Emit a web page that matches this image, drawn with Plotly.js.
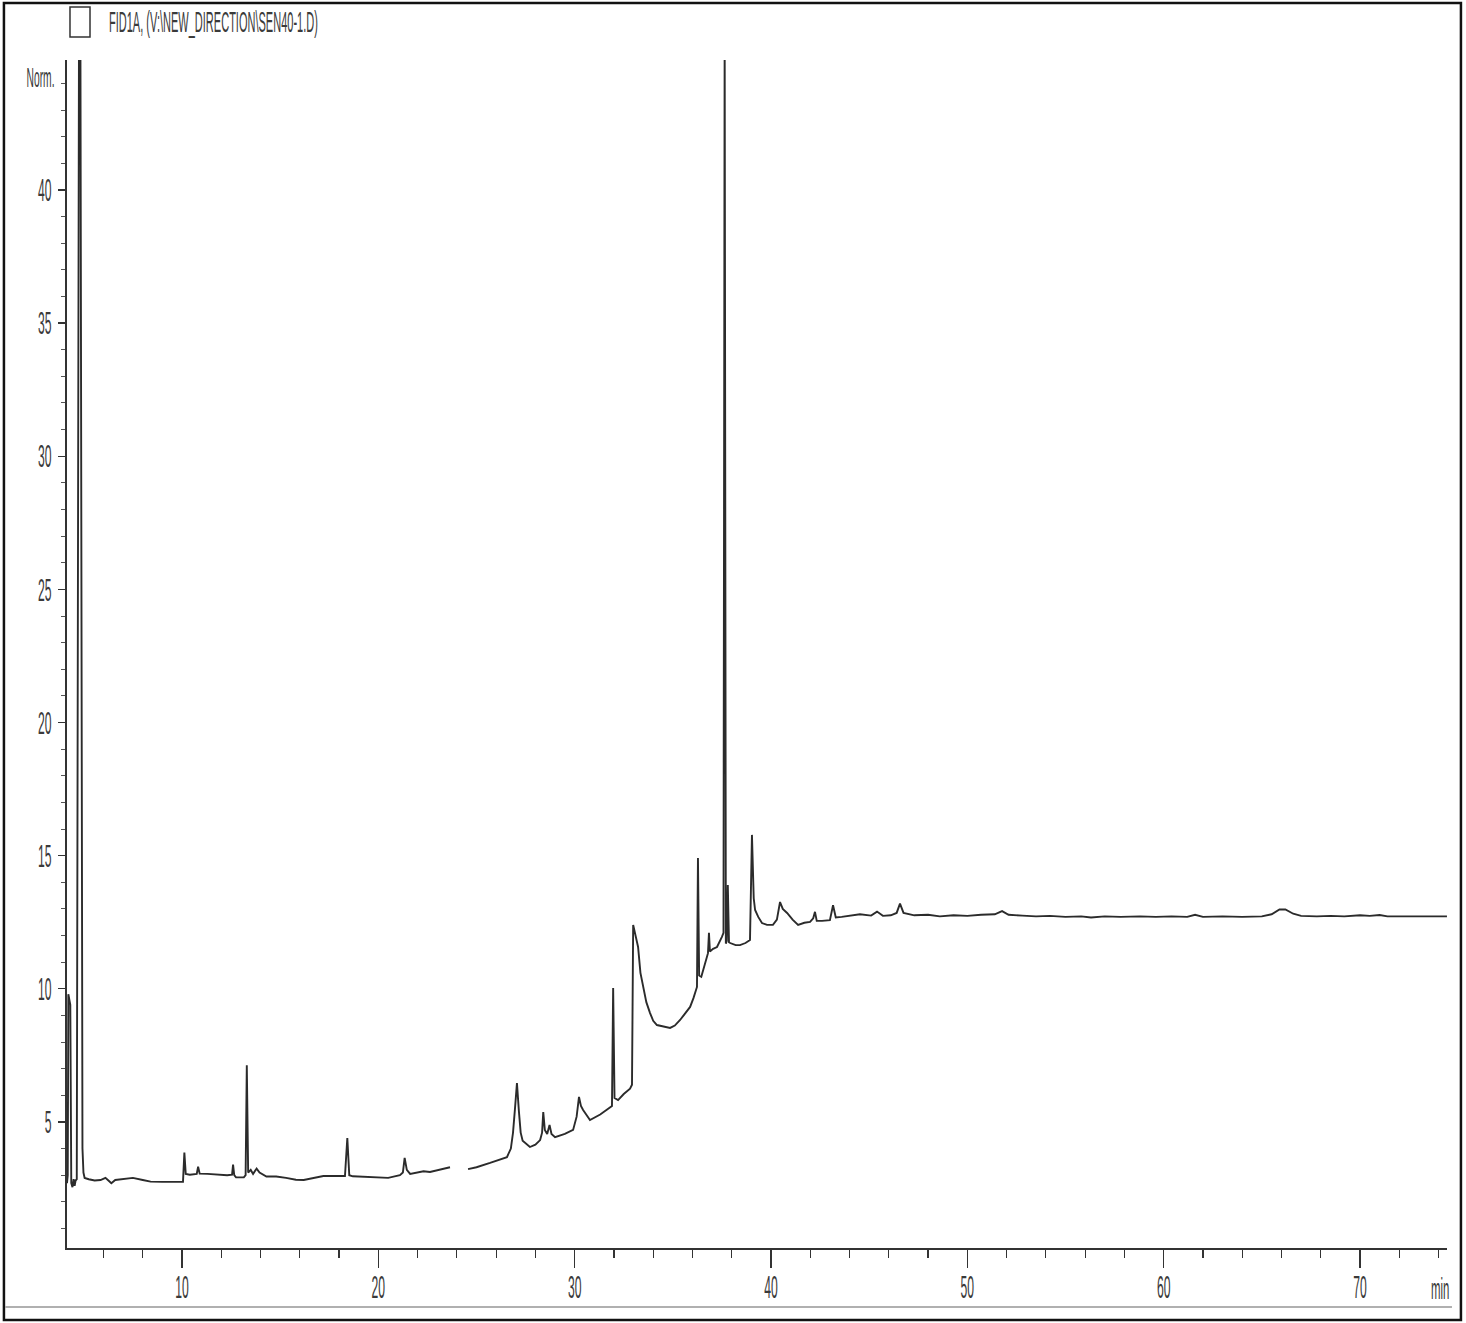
<!DOCTYPE html>
<html>
<head>
<meta charset="utf-8">
<script src="https://cdn.plot.ly/plotly-3.0.1.min.js"></script>
<style>
  html, body { margin: 0; padding: 0; background: #fff; }
  #chart { width: 1466px; height: 1323px; }
</style>
</head>
<body>
<div id="chart"></div>
<script>
// ---- Data (time in min, signal in Norm.) ----
const seg1Time = [4.14, 4.18, 4.21, 4.27, 4.31, 4.36, 4.42, 4.48, 4.53, 4.58, 4.64, 4.79, 4.93, 4.98, 5.04,
  5.25, 5.55, 5.85, 6.10, 6.28, 6.40, 6.60, 7.00, 7.50, 8.00, 8.40, 9.00, 9.60, 10.05, 10.12, 10.19,
  10.40, 10.75, 10.82, 10.90, 11.30, 11.80, 12.30, 12.55, 12.60, 12.66, 12.75, 13.15, 13.24, 13.30,
  13.37, 13.50, 13.62, 13.80, 13.95, 14.30, 14.80, 15.30, 15.80, 16.20, 16.70, 17.20, 17.70, 18.30,
  18.42, 18.52, 18.70, 19.50, 20.50, 21.10, 21.25, 21.34, 21.45, 21.62, 22.00, 22.30, 22.63, 23.00,
  23.50, 23.65];
const seg1Signal = [2.70, 3.00, 9.80, 9.60, 9.40, 2.70, 2.55, 2.85, 2.60, 2.80, 2.85, 60, 4.0, 3.1, 2.90,
  2.85, 2.80, 2.82, 2.90, 2.78, 2.70, 2.82, 2.86, 2.90, 2.82, 2.76, 2.75, 2.76, 2.75, 3.85, 3.05,
  3.02, 3.05, 3.32, 3.06, 3.05, 3.02, 3.00, 3.02, 3.40, 3.00, 2.92, 2.92, 3.00, 7.13,
  3.10, 3.20, 3.05, 3.25, 3.10, 2.95, 2.95, 2.90, 2.83, 2.82, 2.90, 2.97, 2.97, 2.97,
  4.40, 3.00, 2.96, 2.93, 2.90, 3.00, 3.10, 3.65, 3.20, 3.05, 3.10, 3.15, 3.12, 3.18,
  3.27, 3.30];

const seg2Time = [24.57, 25.00, 25.69, 26.20, 26.55, 26.75, 26.86, 26.96, 27.06, 27.16, 27.25, 27.35, 27.72,
  28.00, 28.24, 28.34, 28.40, 28.48, 28.60, 28.72, 28.82, 29.00, 29.50, 29.92, 30.10, 30.22, 30.32,
  30.43, 30.78, 31.30, 31.80, 31.90, 31.96, 32.03, 32.21, 32.50, 32.82, 32.92, 32.98, 33.10, 33.23,
  33.35, 33.48, 33.65, 33.84, 34.00, 34.19, 34.50, 34.86, 35.10, 35.37, 35.60, 35.88, 36.05, 36.23,
  36.28, 36.34, 36.45, 36.62, 36.79, 36.84, 36.89, 37.05, 37.25, 37.50, 37.58, 37.64, 37.70, 37.75,
  37.80, 37.86, 37.92, 38.20, 38.42, 38.70, 38.93, 39.03, 39.12, 39.19, 39.35, 39.54, 39.80, 40.10,
  40.30, 40.46, 40.60, 40.82, 41.10, 41.38, 41.70, 41.99, 42.15, 42.24, 42.33, 42.60, 43.00, 43.16,
  43.30, 43.60, 44.00, 44.53, 45.10, 45.40, 45.70, 46.10, 46.40, 46.57, 46.75, 47.00, 47.30, 48.00,
  48.60, 49.30, 50.00, 50.70, 51.40, 51.77, 52.10, 52.80, 53.50, 54.20, 55.00, 55.80, 56.30, 57.00,
  57.80, 58.80, 59.60, 60.40, 61.20, 61.60, 62.00, 63.00, 64.00, 65.00, 65.50, 65.90, 66.20, 66.60,
  67.00, 67.80, 68.50, 69.20, 70.00, 70.50, 71.00, 71.40, 72.00, 72.80, 73.60, 74.43];
const seg2Signal = [3.23, 3.30, 3.46, 3.58, 3.68, 4.00, 4.60, 5.50, 6.46, 5.40, 4.60, 4.30, 4.06,
  4.15, 4.32, 4.60, 5.37, 4.70, 4.55, 4.89, 4.55, 4.43, 4.55, 4.70, 5.20, 5.94, 5.60,
  5.45, 5.07, 5.28, 5.52, 5.60, 10.03, 5.90, 5.82, 6.05, 6.25, 6.40, 12.40, 12.00, 11.57,
  10.60, 10.07, 9.50, 9.09, 8.80, 8.64, 8.60, 8.53, 8.62, 8.83, 9.05, 9.32, 9.65, 10.07,
  14.91, 10.50, 10.45, 10.95, 11.34, 12.10, 11.40, 11.50, 11.57, 11.95, 12.10, 46, 11.70, 11.80,
  13.90, 11.75, 11.72, 11.64, 11.64, 11.72, 11.83, 15.78, 13.40, 12.96, 12.70, 12.47, 12.40, 12.40,
  12.60, 13.26, 13.00, 12.85, 12.60, 12.40, 12.48, 12.51, 12.65, 12.89, 12.55, 12.55, 12.58, 13.14,
  12.68, 12.70, 12.75, 12.80, 12.75, 12.90, 12.74, 12.76, 12.85, 13.20, 12.85, 12.80, 12.76, 12.78,
  12.72, 12.76, 12.74, 12.78, 12.80, 12.92, 12.78, 12.75, 12.72, 12.74, 12.70, 12.72, 12.68, 12.72,
  12.70, 12.72, 12.70, 12.72, 12.70, 12.78, 12.70, 12.72, 12.70, 12.72, 12.80, 12.98, 12.98, 12.82,
  12.74, 12.72, 12.74, 12.72, 12.76, 12.74, 12.77, 12.72, 12.72, 12.71, 12.72, 12.72];

const xTickStep = 10;
const yTickStep = 5;
const titleText = "FID1A, (V:\\NEW_DIRECTION\\SEN40-1.D)";
const yUnit = "Norm.";
const xUnit = "min";

// Build one trace with a gap between the two recorded segments
const xs = seg1Time.concat([null], seg2Time);
const ys = seg1Signal.concat([null], seg2Signal);

const trace = {
  x: xs, y: ys, type: 'scatter', mode: 'lines',
  connectgaps: false,
  line: { color: '#2b2b2b', width: 1.9 },
  hoverinfo: 'skip'
};

const tickFont = { family: 'Liberation Sans, Arial, sans-serif', size: 32, color: '#3a3a3a' };

const layout = {
  width: 1466, height: 1323,
  margin: { l: 67, r: 19, t: 60, b: 75 },
  paper_bgcolor: '#ffffff', plot_bgcolor: '#ffffff',
  showlegend: false,
  xaxis: {
    range: [4.142, 74.432], showgrid: false, zeroline: false,
    showline: true, linecolor: '#333', linewidth: 2,
    ticks: 'outside', ticklen: 18, tickwidth: 1.2, tickcolor: '#333',
    ticklabelstandoff: -8,
    dtick: xTickStep, tick0: 0, tickfont: tickFont,
    minor: { dtick: 2, ticks: 'outside', ticklen: 8, tickwidth: 1.2, tickcolor: '#333', showgrid: false }
  },
  yaxis: {
    range: [0.267, 44.88], showgrid: false, zeroline: false,
    showline: true, linecolor: '#333', linewidth: 2,
    ticks: 'outside', ticklen: 7, tickwidth: 1.2, tickcolor: '#333',
    dtick: yTickStep, tick0: 0, tickfont: tickFont,
    minor: { dtick: 1, ticks: 'outside', ticklen: 4, tickwidth: 1, tickcolor: '#555', showgrid: false }
  },
  annotations: [
    { text: titleText, xref: 'paper', yref: 'paper', x: 0.029, y: 1.032, xanchor: 'left', yanchor: 'middle',
      align: 'left', showarrow: false, font: { family: 'Liberation Sans, Arial, sans-serif', size: 29, color: '#3a3a3a' } },
    { text: yUnit, xref: 'paper', yref: 'paper', x: -0.007, y: 0.985, xanchor: 'right', yanchor: 'middle',
      align: 'right', showarrow: false, font: { family: 'Liberation Sans, Arial, sans-serif', size: 27, color: '#3a3a3a' } },
    { text: xUnit, xref: 'paper', yref: 'paper', x: 0.987, y: -0.0337, xanchor: 'left', yanchor: 'middle',
      align: 'left', showarrow: false, font: { family: 'Liberation Sans, Arial, sans-serif', size: 30, color: '#3a3a3a' } }
  ],
  shapes: [
    // checkbox next to the title
    { type: 'rect', xref: 'paper', yref: 'paper', x0: 0.00217, x1: 0.01667, y0: 1.0194, y1: 1.0446,
      line: { color: '#333', width: 1.5 }, fillcolor: 'rgba(0,0,0,0)' },
    // outer frame
    { type: 'rect', xref: 'paper', yref: 'paper', x0: -0.0457, x1: 1.0101, y0: -0.0606, y1: 1.048,
      line: { color: '#111', width: 2.5 }, fillcolor: 'rgba(0,0,0,0)' },
    // grey rule near the bottom
    { type: 'line', xref: 'paper', yref: 'paper', x0: -0.0449, x1: 1.0036, y0: -0.0497, y1: -0.0497,
      line: { color: '#b0b0b0', width: 2 } }
  ]
};

function squeezeText(selector, s) {
  document.querySelectorAll(selector).forEach(function (el) {
    let bb;
    try { bb = el.getBBox(); } catch (e) { return; }
    const anchor = el.getAttribute('text-anchor') || 'start';
    let cx = bb.x;
    if (anchor === 'middle') cx = bb.x + bb.width / 2;
    else if (anchor === 'end') cx = bb.x + bb.width;
    const t = el.getAttribute('transform') || '';
    el.setAttribute('transform', t + ' translate(' + cx + ',0) scale(' + s + ',1) translate(' + (-cx) + ',0)');
  });
}

Plotly.newPlot('chart', [trace], layout, { displayModeBar: false, staticPlot: true }).then(function () {
  squeezeText('.xtick text, .ytick text, .annotation-text', 0.38);
});
</script>
</body>
</html>
